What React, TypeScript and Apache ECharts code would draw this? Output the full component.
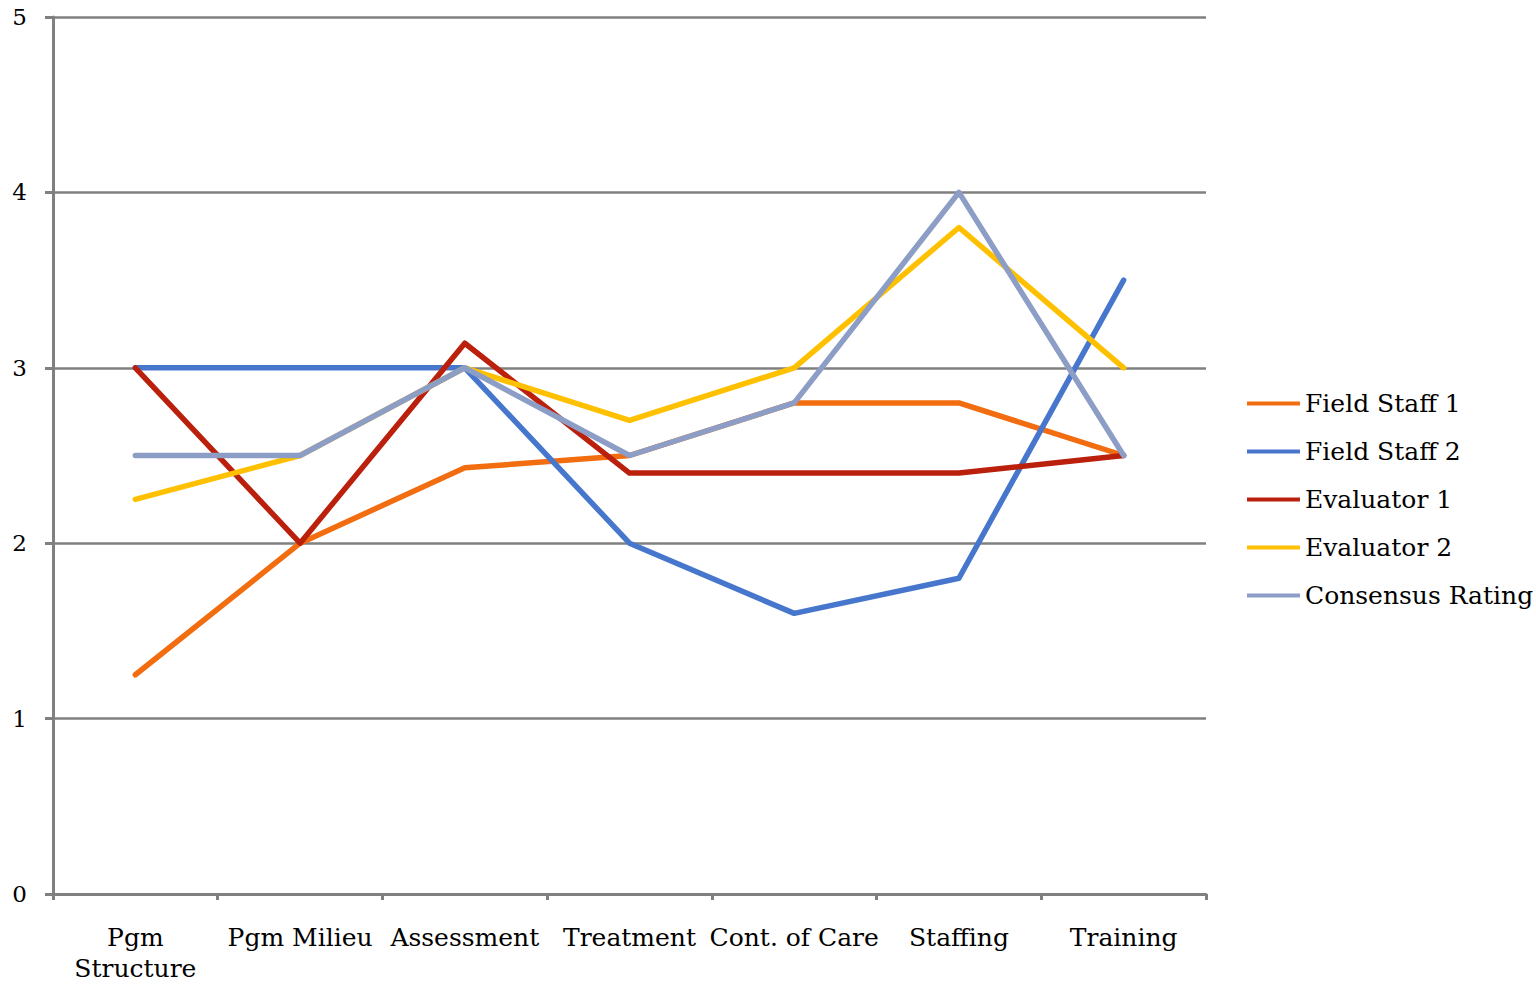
import React, { useEffect, useRef } from "react";
import * as echarts from "echarts";

const categories = ["Pgm\nStructure", "Pgm Milieu", "Assessment", "Treatment", "Cont. of Care", "Staffing", "Training"];
const fieldStaff1 = [1.25, 2.0, 2.43, 2.5, 2.8, 2.8, 2.5];
const fieldStaff2 = [3.0, 3.0, 3.0, 2.0, 1.6, 1.8, 3.5];
const evaluator1 = [3.0, 2.0, 3.14, 2.4, 2.4, 2.4, 2.5];
const evaluator2 = [2.25, 2.5, 3.0, 2.7, 3.0, 3.8, 3.0];
const consensus = [2.5, 2.5, 3.0, 2.5, 2.8, 4.0, 2.5];

const FONT = "DejaVu Serif";

export default function App() {
  const ref = useRef<HTMLDivElement>(null);
  useEffect(() => {
    if (!ref.current) return;
    const chart = echarts.init(ref.current, undefined, { renderer: "svg" });
    const mk = (name: string, data: number[], color: string) => ({
      name,
      type: "line",
      data,
      symbol: "none",
      showSymbol: false,
      lineStyle: { width: 5.5, color, join: "round", cap: "round" },
      itemStyle: { color },
    });
    chart.setOption({
      animation: false,
      backgroundColor: "#ffffff",
      grid: { left: 53, right: 330, top: 17, bottom: 92, containLabel: false },
      legend: {
        orient: "vertical",
        left: 1242,
        top: 386,
        icon: "rect",
        itemWidth: 53,
        itemHeight: 4,
        itemGap: 23,
        textStyle: { fontFamily: FONT, fontSize: 25, color: "#000", lineHeight: 22 },
        data: ["Field Staff 1", "Field Staff 2", "Evaluator 1", "Evaluator 2", "Consensus Rating"],
      },
      xAxis: {
        type: "category",
        data: categories,
        boundaryGap: true,
        axisLine: { lineStyle: { color: "#808080", width: 3 } },
        axisTick: { show: true, length: 6, lineStyle: { color: "#808080", width: 3 } },
        axisLabel: {
          fontFamily: FONT,
          fontSize: 25,
          color: "#000",
          margin: 28,
          lineHeight: 31,
          interval: 0,
        },
        splitLine: { show: false },
      },
      yAxis: {
        type: "value",
        min: 0,
        max: 5,
        interval: 1,
        axisLine: { show: true, lineStyle: { color: "#808080", width: 3 } },
        axisTick: { show: true, length: 8, lineStyle: { color: "#808080", width: 3 } },
        axisLabel: { fontFamily: FONT, fontSize: 23, color: "#000", margin: 26 },
        splitLine: { show: true, lineStyle: { color: "#808080", width: 2.5 } },
      },
      series: [
        mk("Field Staff 1", fieldStaff1, "#F26D10"),
        mk("Field Staff 2", fieldStaff2, "#4677CC"),
        mk("Evaluator 1", evaluator1, "#BA200C"),
        mk("Evaluator 2", evaluator2, "#FFC000"),
        mk("Consensus Rating", consensus, "#8C9DC6"),
      ],
    });
    return () => chart.dispose();
  }, []);
  return <div ref={ref} style={{ position: "fixed", left: 0, top: 0, width: 1536, height: 986 }} />;
}
